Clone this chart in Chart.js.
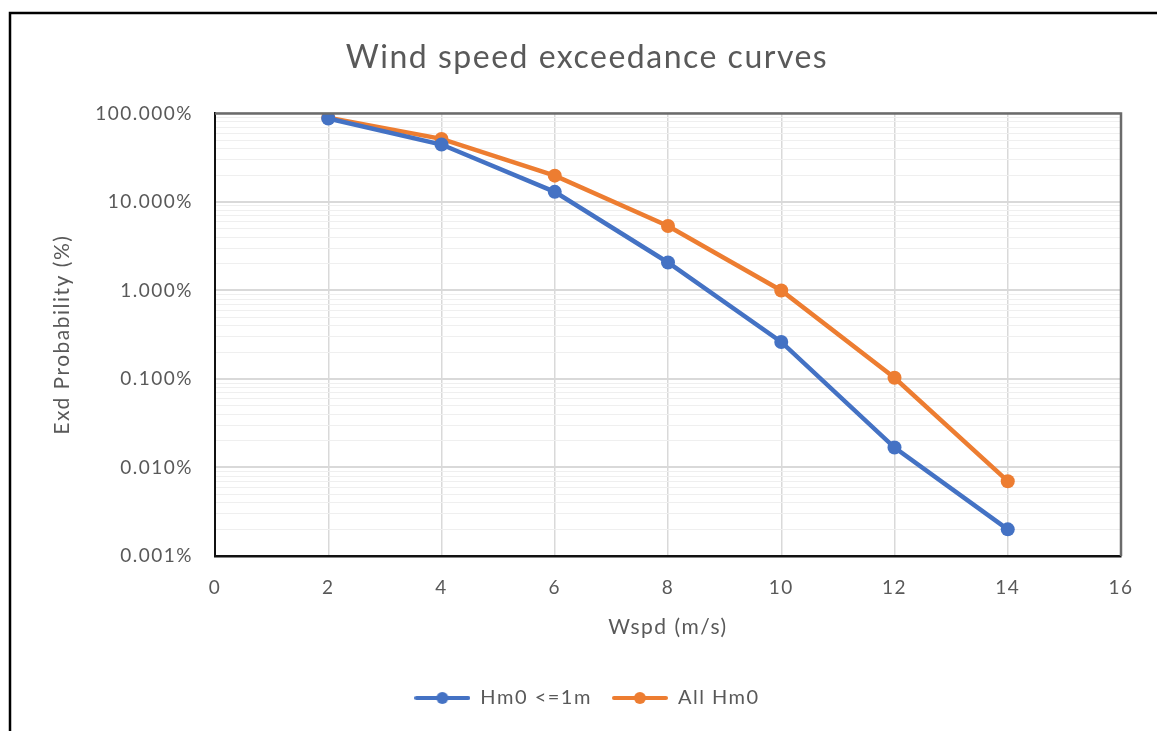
<!DOCTYPE html>
<html>
<head>
<meta charset="utf-8">
<script src="https://cdn.jsdelivr.net/npm/chart.js@4/dist/chart.umd.min.js"></script>
<style>
html,body{margin:0;padding:0;background:#fff;}
#wrap{position:relative;width:1157px;height:731px;}
canvas{display:block;}
</style>
</head>
<body>
<div id="wrap"><canvas id="c" width="1157" height="731"></canvas></div>
<script>
// ---- data ----
const windSpeeds = [2, 4, 6, 8, 10, 12, 14];
const hm0Le1m = [87.5, 44.5, 13.0, 2.07, 0.262, 0.0168, 0.0020];
const allHm0 = [89.5, 51.5, 19.8, 5.35, 1.0, 0.103, 0.0070];
const seriesNames = ['Hm0 <=1m', 'All Hm0'];
const yMajorTicks = [0.001, 0.01, 0.1, 1, 10, 100];
const xTicks = [0, 2, 4, 6, 8, 10, 12, 14, 16];

const BLUE = '#4472C4', ORANGE = '#ED7D31', TXT = '#595959';
const FONT = 'Lato, "Open Sans", sans-serif';

function legendIcon(color) {
  const c = document.createElement('canvas');
  c.width = 56; c.height = 16;
  const g = c.getContext('2d');
  g.strokeStyle = color; g.lineWidth = 4; g.lineCap = 'round';
  g.beginPath(); g.moveTo(2, 8); g.lineTo(54, 8); g.stroke();
  g.fillStyle = color; g.beginPath(); g.arc(28, 8, 6, 0, Math.PI * 2); g.fill();
  return c;
}
const icons = [legendIcon(BLUE), legendIcon(ORANGE)];

// minor log grid values
const yAllTicks = [];
yMajorTicks.forEach((d, i) => {
  yAllTicks.push(d);
  if (i < yMajorTicks.length - 1) for (let k = 2; k <= 9; k++) yAllTicks.push(+(d * k).toPrecision(3));
});
const isMajor = v => yMajorTicks.some(m => Math.abs(m - v) / m < 1e-6);

const spacing = {
  id: 'spacing',
  beforeLayout(chart) { chart.ctx.letterSpacing = '1.5px'; },
  beforeDraw(chart) { chart.ctx.letterSpacing = '1.5px'; }
};

const frame = {
  id: 'frame',
  beforeDraw(chart) {
    const ctx = chart.ctx;
    ctx.save();
    ctx.fillStyle = '#fff';
    ctx.fillRect(0, 0, chart.width, chart.height);
    ctx.strokeStyle = '#000';
    ctx.lineWidth = 2.5;
    ctx.beginPath();
    ctx.moveTo(10, 731); ctx.lineTo(10, 13); ctx.lineTo(1157, 13);
    ctx.stroke();
    ctx.restore();
  },
  afterDatasetsDraw(chart) {
    const a = chart.chartArea, ctx = chart.ctx;
    ctx.save();
    ctx.strokeStyle = '#6b6b6b';
    ctx.lineWidth = 2.5;
    ctx.beginPath();
    ctx.moveTo(a.left, a.top); ctx.lineTo(a.right, a.top); ctx.lineTo(a.right, a.bottom);
    ctx.stroke();
    ctx.restore();
  }
};

new Chart(document.getElementById('c'), {
  type: 'line',
  data: {
    datasets: [
      { label: seriesNames[0], data: windSpeeds.map((x, i) => ({ x, y: hm0Le1m[i] })),
        borderColor: BLUE, backgroundColor: BLUE },
      { label: seriesNames[1], data: windSpeeds.map((x, i) => ({ x, y: allHm0[i] })),
        borderColor: ORANGE, backgroundColor: ORANGE }
    ]
  },
  options: {
    responsive: false,
    animation: false,
    layout: { padding: { left: 53, right: 36, top: 0, bottom: 13 } },
    elements: {
      line: { borderWidth: 4.5, tension: 0 },
      point: { radius: 7, hoverRadius: 7, borderWidth: 0, pointStyle: 'circle' }
    },
    plugins: {
      title: {
        display: true, text: 'Wind speed exceedance curves', color: TXT,
        font: { family: FONT, size: 32, weight: 'normal' },
        padding: { top: 38, bottom: 37 }
      },
      legend: {
        position: 'bottom',
        labels: {
          color: TXT, font: { family: FONT, size: 20 },
          usePointStyle: true, pointStyleWidth: 56, boxHeight: 16, padding: 20,
          generateLabels(chart) {
            return chart.data.datasets.map((d, i) => ({
              text: d.label, pointStyle: icons[i], fillStyle: d.borderColor,
              strokeStyle: d.borderColor, lineWidth: 0, fontColor: TXT, datasetIndex: i, hidden: false
            }));
          }
        }
      },
      tooltip: { enabled: false }
    },
    scales: {
      x: {
        type: 'linear', min: 0, max: 16,
        afterBuildTicks(s) { s.ticks = xTicks.map(v => ({ value: v })); },
        afterFit(s) { s.height = 112; },
        grid: { color: '#d9d9d9', lineWidth: 1.5, drawTicks: false },
        border: { display: true, color: '#111', width: 2.5 },
        ticks: { color: TXT, font: { family: FONT, size: 19 }, padding: 20, maxRotation: 0 },
        title: { display: true, text: 'Wspd (m/s)', color: TXT, font: { family: FONT, size: 21 }, padding: { top: 0, bottom: 28 } }
      },
      y: {
        type: 'logarithmic', min: 0.001, max: 100,
        afterBuildTicks(s) { s.ticks = yAllTicks.map(v => ({ value: v, major: isMajor(v) })); },
        afterFit(s) { s.width = 162; },
        grid: {
          drawTicks: false,
          color: c => (c.tick && isMajor(c.tick.value)) ? '#d9d9d9' : '#efefef',
          lineWidth: c => (c.tick && isMajor(c.tick.value)) ? 2 : 1
        },
        border: { display: true, color: '#111', width: 2 },
        ticks: {
          color: TXT, font: { family: FONT, size: 19 }, padding: 22, autoSkip: false,
          callback: v => isMajor(v) ? v.toFixed(3) + '%' : ''
        },
        title: { display: true, text: 'Exd Probability (%)', color: TXT, font: { family: FONT, size: 21 }, padding: { top: -3, bottom: 0 } }
      }
    }
  },
  plugins: [spacing, frame]
});
</script>
</body>
</html>
